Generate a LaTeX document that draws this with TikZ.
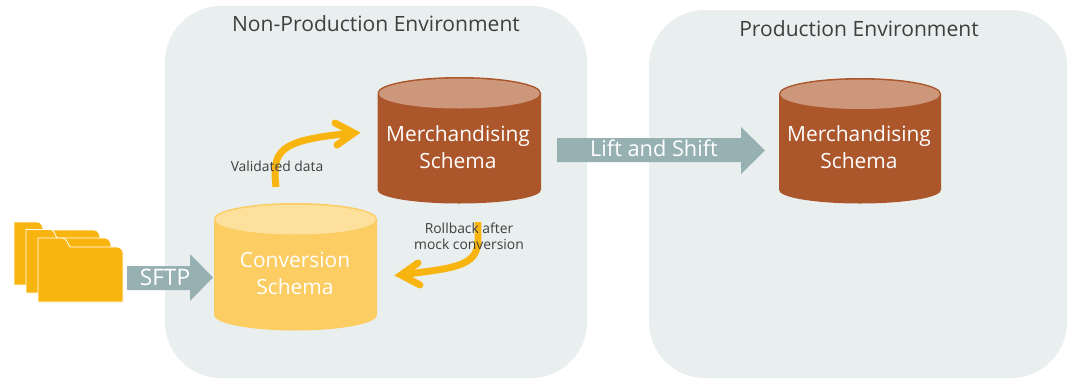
\documentclass[tikz,border=0pt]{standalone}
\usepackage{fontspec}
\setmainfont{Open Sans}
\usetikzlibrary{arrows.meta}
\definecolor{panelc}{HTML}{E9EFEF}
\definecolor{arrowc}{HTML}{97B1B2}
\definecolor{amber}{HTML}{F9B50F}
\definecolor{brownc}{HTML}{AC562B}
\definecolor{browntop}{HTML}{CC977B}
\definecolor{yelc}{HTML}{FBCD62}
\definecolor{yeltop}{HTML}{FDE09C}
\definecolor{inkc}{HTML}{3F3F3F}
\tikzset{
  panel/.style={fill=panelc,draw=none,rounded corners=42pt},
  title/.style={text=inkc,font=\fontsize{15.8}{18}\selectfont,inner sep=0pt},
  dbtext/.style={text=white,font=\fontsize{15.7}{20.3}\selectfont,align=center,inner sep=0pt},
  small/.style={text=inkc,font=\fontsize{10.4}{12}\selectfont,align=center,inner sep=0pt},
  blockarrow/.style={fill=arrowc,draw=none},
  flow/.style={draw=amber,line width=5.2pt,line cap=butt},
  chevron/.style={draw=amber,line width=5.2pt,line cap=round,line join=miter},
  folder/.style={fill=amber,draw=white,line width=0.6pt},
}
\newcommand{\dbcyl}[6]{%
  \pgfmathsetmacro{\cxx}{(#1+#2)/2}\pgfmathsetmacro{\rxx}{(#2-#1)/2}
  \pgfmathsetmacro{\cyt}{(#3+#4)/2}\pgfmathsetmacro{\ryy}{(#4-#3)/2}
  \fill[\dbside] (#1,\cyt) -- (#1,#5) arc[start angle=180,end angle=0,x radius=\rxx,y radius=#6-#5]
     -- (#2,\cyt) arc[start angle=0,end angle=-180,x radius=\rxx,y radius=\ryy] -- cycle;
  \fill[\dbtop] (\cxx,\cyt+0.8) ellipse[x radius=\rxx-1.2,y radius=\ryy-0.8];
}
\begin{document}
\begin{tikzpicture}[x=0.75pt,y=-0.75pt]
\useasboundingbox (0,0) rectangle (1067,379);
% panels
\fill[panel] (165,6) rectangle (587,378);
\fill[panel] (649,10) rectangle (1067,378);
\node[title] (nonprod) at (376,24) {Non-Production Environment};
\node[title] (prod) at (859,28.5) {Production Environment};
% folders
\path[folder] (14,222) -- (38,222) to[out=0,in=125] (44,230) -- (94,230) to[out=0,in=90] (100,238) -- (100,285) -- (14,285) -- cycle;
\path[folder] (26,229.5) -- (50,229.5) to[out=0,in=125] (57,238) -- (105,238) to[out=0,in=90] (111,246) -- (111,293) -- (26,293) -- cycle;
\path[folder] (38,238) -- (62,238) to[out=0,in=125] (70,247) -- (117,247) to[out=0,in=90] (123,253) -- (123,302) -- (38,302) -- cycle;
% block arrows
\fill[blockarrow] (127,266) -- (190,266) -- (190,254) -- (213,277.5) -- (190,301) -- (190,290) -- (127,290) -- cycle;
\node[text=white,font=\fontsize{17}{20}\selectfont,inner sep=0pt] (sftp) at (165,277.5) {SFTP};
\fill[blockarrow] (557,138) -- (741,138) -- (741,127) -- (765,150.5) -- (741,174) -- (741,162) -- (557,162) -- cycle;
\node[text=white,font=\fontsize{16.3}{20}\selectfont,inner sep=0pt] (lift) at (654,148.5) {Lift and Shift};
% cylinders
\def\dbside{yelc}\def\dbtop{yeltop}
\dbcyl{214}{377}{203}{234.5}{315}{330.5}
\def\dbside{brownc}\def\dbtop{browntop}
\dbcyl{377.5}{541}{77}{108.5}{190}{203.5}
\dbcyl{779}{941}{78}{109}{190}{203.5}
\node[dbtext] (conv) at (295,273) {Conversion\\Schema};
\node[dbtext] (merchA) at (458,147) {Merchandising\\Schema};
\node[dbtext] (merchB) at (859,147) {Merchandising\\Schema};
% connectors
\coordinate (vs) at (276,187);
\coordinate (ve) at (354,133);
\coordinate (va) at (335,123);
\coordinate (vb) at (337,145);
\draw[flow] (vs) .. controls (272,150) and (278,140) .. (ve);
\draw[chevron] (va) -- (ve) -- (vb);
\coordinate (rs) at (478,222);
\coordinate (re) at (401,275);
\coordinate (ra) at (418,263);
\coordinate (rb) at (420,285);
\draw[flow] (rs) -- (478,240) .. controls (478,268) and (450,268) .. (re);
\draw[chevron] (ra) -- (re) -- (rb);
% labels
\node[small] (valid) at (277,166) {Validated data};
\node[small] (roll) at (469,236) {Rollback after\\mock conversion};
\end{tikzpicture}
\end{document}
